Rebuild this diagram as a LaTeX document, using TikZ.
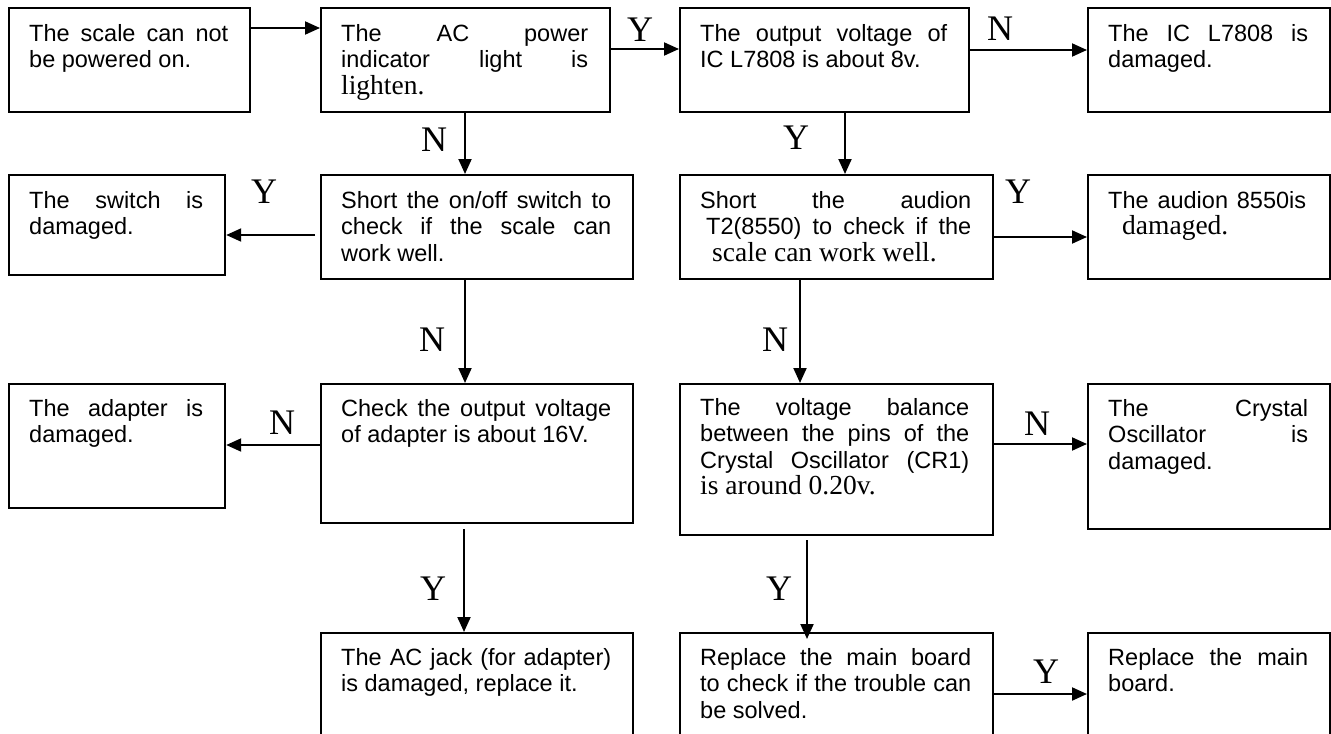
\documentclass[tikz,border=0pt]{standalone}
\usepackage{fontspec}
\setmainfont{Liberation Sans}
\newfontfamily\tnrfam{Liberation Serif}
\usetikzlibrary{arrows.meta}
\newcommand\jl[2]{\makebox[#1bp][s]{#2}}
\newcommand\tnrtext[1]{{\fontsize{27.5bp}{26.5bp}\selectfont\tnrfam #1}}
\newcommand\firststrut{\rule{0pt}{19bp}}
\tikzset{
  box/.style={draw, line width=2.2bp, inner sep=0, anchor=north west, rectangle},
  txt/.style={anchor=north west, inner sep=0, align=left, font=\fontsize{23.5bp}{26.5bp}\selectfont},
  lbl/.style={inner sep=0, font=\fontsize{36bp}{36bp}\selectfont\tnrfam},
  arr/.style={line width=2bp, -{Triangle[length=15bp,width=13bp]}}
}
\begin{document}
\begin{tikzpicture}[x=1bp,y=-1bp]
\useasboundingbox (0,0) rectangle (1331,733);
\clip (0,0) rectangle (1331,733);
% boxes
\node[box, minimum width=241bp, minimum height=104bp] (b1) at (8,7) {};
\node[box, minimum width=289bp, minimum height=104bp] (b2) at (320,7) {};
\node[box, minimum width=289bp, minimum height=104bp] (b3) at (679,7) {};
\node[box, minimum width=242bp, minimum height=104bp] (b4) at (1087,7) {};
\node[box, minimum width=216bp, minimum height=100bp] (b5) at (8,174) {};
\node[box, minimum width=312bp, minimum height=104bp] (b6) at (320,174) {};
\node[box, minimum width=313bp, minimum height=104bp] (b7) at (679,174) {};
\node[box, minimum width=242bp, minimum height=104bp] (b8) at (1087,174) {};
\node[box, minimum width=216bp, minimum height=124bp] (b9) at (8,383) {};
\node[box, minimum width=312bp, minimum height=139bp] (b10) at (320,383) {};
\node[box, minimum width=313bp, minimum height=151bp] (b11) at (679,383) {};
\node[box, minimum width=242bp, minimum height=145bp] (b12) at (1087,383) {};
\node[box, minimum width=312bp, minimum height=120bp] (b13) at (320,632) {};
\node[box, minimum width=313bp, minimum height=120bp] (b14) at (679,632) {};
\node[box, minimum width=242bp, minimum height=120bp] (b15) at (1087,632) {};
% texts
\node[txt] (t1) at ([xshift=21bp,yshift=-15bp]b1.north west) {\firststrut\jl{199}{The scale can not}\\be powered on.};
\node[txt] (t2) at ([xshift=21bp,yshift=-15bp]b2.north west) {\firststrut\jl{247}{The AC power}\\\jl{247}{indicator light is}\\\tnrtext{lighten.}};
\node[txt] (t3) at ([xshift=21bp,yshift=-15bp]b3.north west) {\firststrut\jl{247}{The output voltage of}\\IC L7808 is about 8v.};
\node[txt] (t4) at ([xshift=21bp,yshift=-15bp]b4.north west) {\firststrut\jl{200}{The IC L7808 is}\\damaged.};
\node[txt] (t5) at ([xshift=21bp,yshift=-15bp]b5.north west) {\firststrut\jl{174}{The switch is}\\damaged.};
\node[txt] (t6) at ([xshift=21bp,yshift=-15bp]b6.north west) {\firststrut\jl{270}{Short the on/off switch to}\\\jl{270}{check if the scale can}\\work well.};
\node[txt] (t7) at ([xshift=21bp,yshift=-15bp]b7.north west) {\firststrut\jl{271}{Short the audion}\\\hspace*{6bp}\jl{265}{T2(8550) to check if the}\\\hspace*{12bp}\tnrtext{scale can work well.}};
\node[txt] (t8) at ([xshift=21bp,yshift=-15bp]b8.north west) {\firststrut\jl{198}{The audion 8550is}\\\hspace*{14bp}\tnrtext{damaged.}};
\node[txt] (t9) at ([xshift=21bp,yshift=-14bp]b9.north west) {\firststrut\jl{174}{The adapter is}\\damaged.};
\node[txt] (t10) at ([xshift=21bp,yshift=-14bp]b10.north west) {\firststrut\jl{270}{Check the output voltage}\\of adapter is about 16V.};
\node[txt] (t11) at ([xshift=21bp,yshift=-13bp]b11.north west) {\firststrut\jl{269}{The voltage balance}\\\jl{269}{between the pins of the}\\\jl{269}{Crystal Oscillator (CR1)}\\\tnrtext{is around 0.20v.}};
\node[txt] (t12) at ([xshift=21bp,yshift=-14bp]b12.north west) {\firststrut\jl{200}{The Crystal}\\\jl{200}{Oscillator is}\\damaged.};
\node[txt] (t13) at ([xshift=21bp,yshift=-14bp]b13.north west) {\firststrut\jl{270}{The AC jack (for adapter)}\\is damaged, replace it.};
\node[txt] (t14) at ([xshift=21bp,yshift=-14bp]b14.north west) {\firststrut\jl{271}{Replace the main board}\\\jl{271}{to check if the trouble can}\\be solved.};
\node[txt] (t15) at ([xshift=21bp,yshift=-14bp]b15.north west) {\firststrut\jl{200}{Replace the main}\\board.};
% arrows
\draw[arr] ([yshift=-21bp]b1.north east) -- ([yshift=-21bp]b2.north west);
\draw[arr] ([yshift=-42bp]b2.north east) -- ([yshift=-42bp]b3.north west);
\draw[arr] ([yshift=-43bp]b3.north east) -- ([yshift=-43bp]b4.north west);
\draw[arr] ([xshift=145bp]b2.south west) -- ([xshift=145bp]b6.north west);
\draw[arr] ([xshift=166bp]b3.south west) -- ([xshift=166bp]b7.north west);
\draw[arr] ([xshift=-5bp,yshift=-61bp]b6.north west) -- ([yshift=-61bp]b5.north east);
\draw[arr] ([yshift=-63bp]b7.north east) -- ([yshift=-63bp]b8.north west);
\draw[arr] ([xshift=145bp]b6.south west) -- ([xshift=145bp]b10.north west);
\draw[arr] ([xshift=121bp]b7.south west) -- ([xshift=121bp]b11.north west);
\draw[arr] ([yshift=-62bp]b10.north west) -- ([yshift=-62bp]b9.north east);
\draw[arr] ([yshift=-61bp]b11.north east) -- ([yshift=-61bp]b12.north west);
\draw[arr] ([xshift=144bp,yshift=-5bp]b10.south west) -- ([xshift=144bp]b13.north west);
\draw[arr] ([xshift=128bp,yshift=-4bp]b11.south west) -- ([xshift=128bp,yshift=-7bp]b14.north west);
\draw[arr] ([yshift=-62bp]b14.north east) -- ([yshift=-62bp]b15.north west);
% labels
\node[lbl] (l1) at (640,30) {Y};
\node[lbl] (l2) at (1000,29) {N};
\node[lbl] (l3) at (434,140) {N};
\node[lbl] (l4) at (796,138) {Y};
\node[lbl] (l5) at (264,192) {Y};
\node[lbl] (l6) at (1018,192) {Y};
\node[lbl] (l7) at (432,340) {N};
\node[lbl] (l8) at (775,340) {N};
\node[lbl] (l9) at (282,423) {N};
\node[lbl] (l10) at (1037,424) {N};
\node[lbl] (l11) at (433,589) {Y};
\node[lbl] (l12) at (779,589) {Y};
\node[lbl] (l13) at (1046,672) {Y};
\end{tikzpicture}
\end{document}
